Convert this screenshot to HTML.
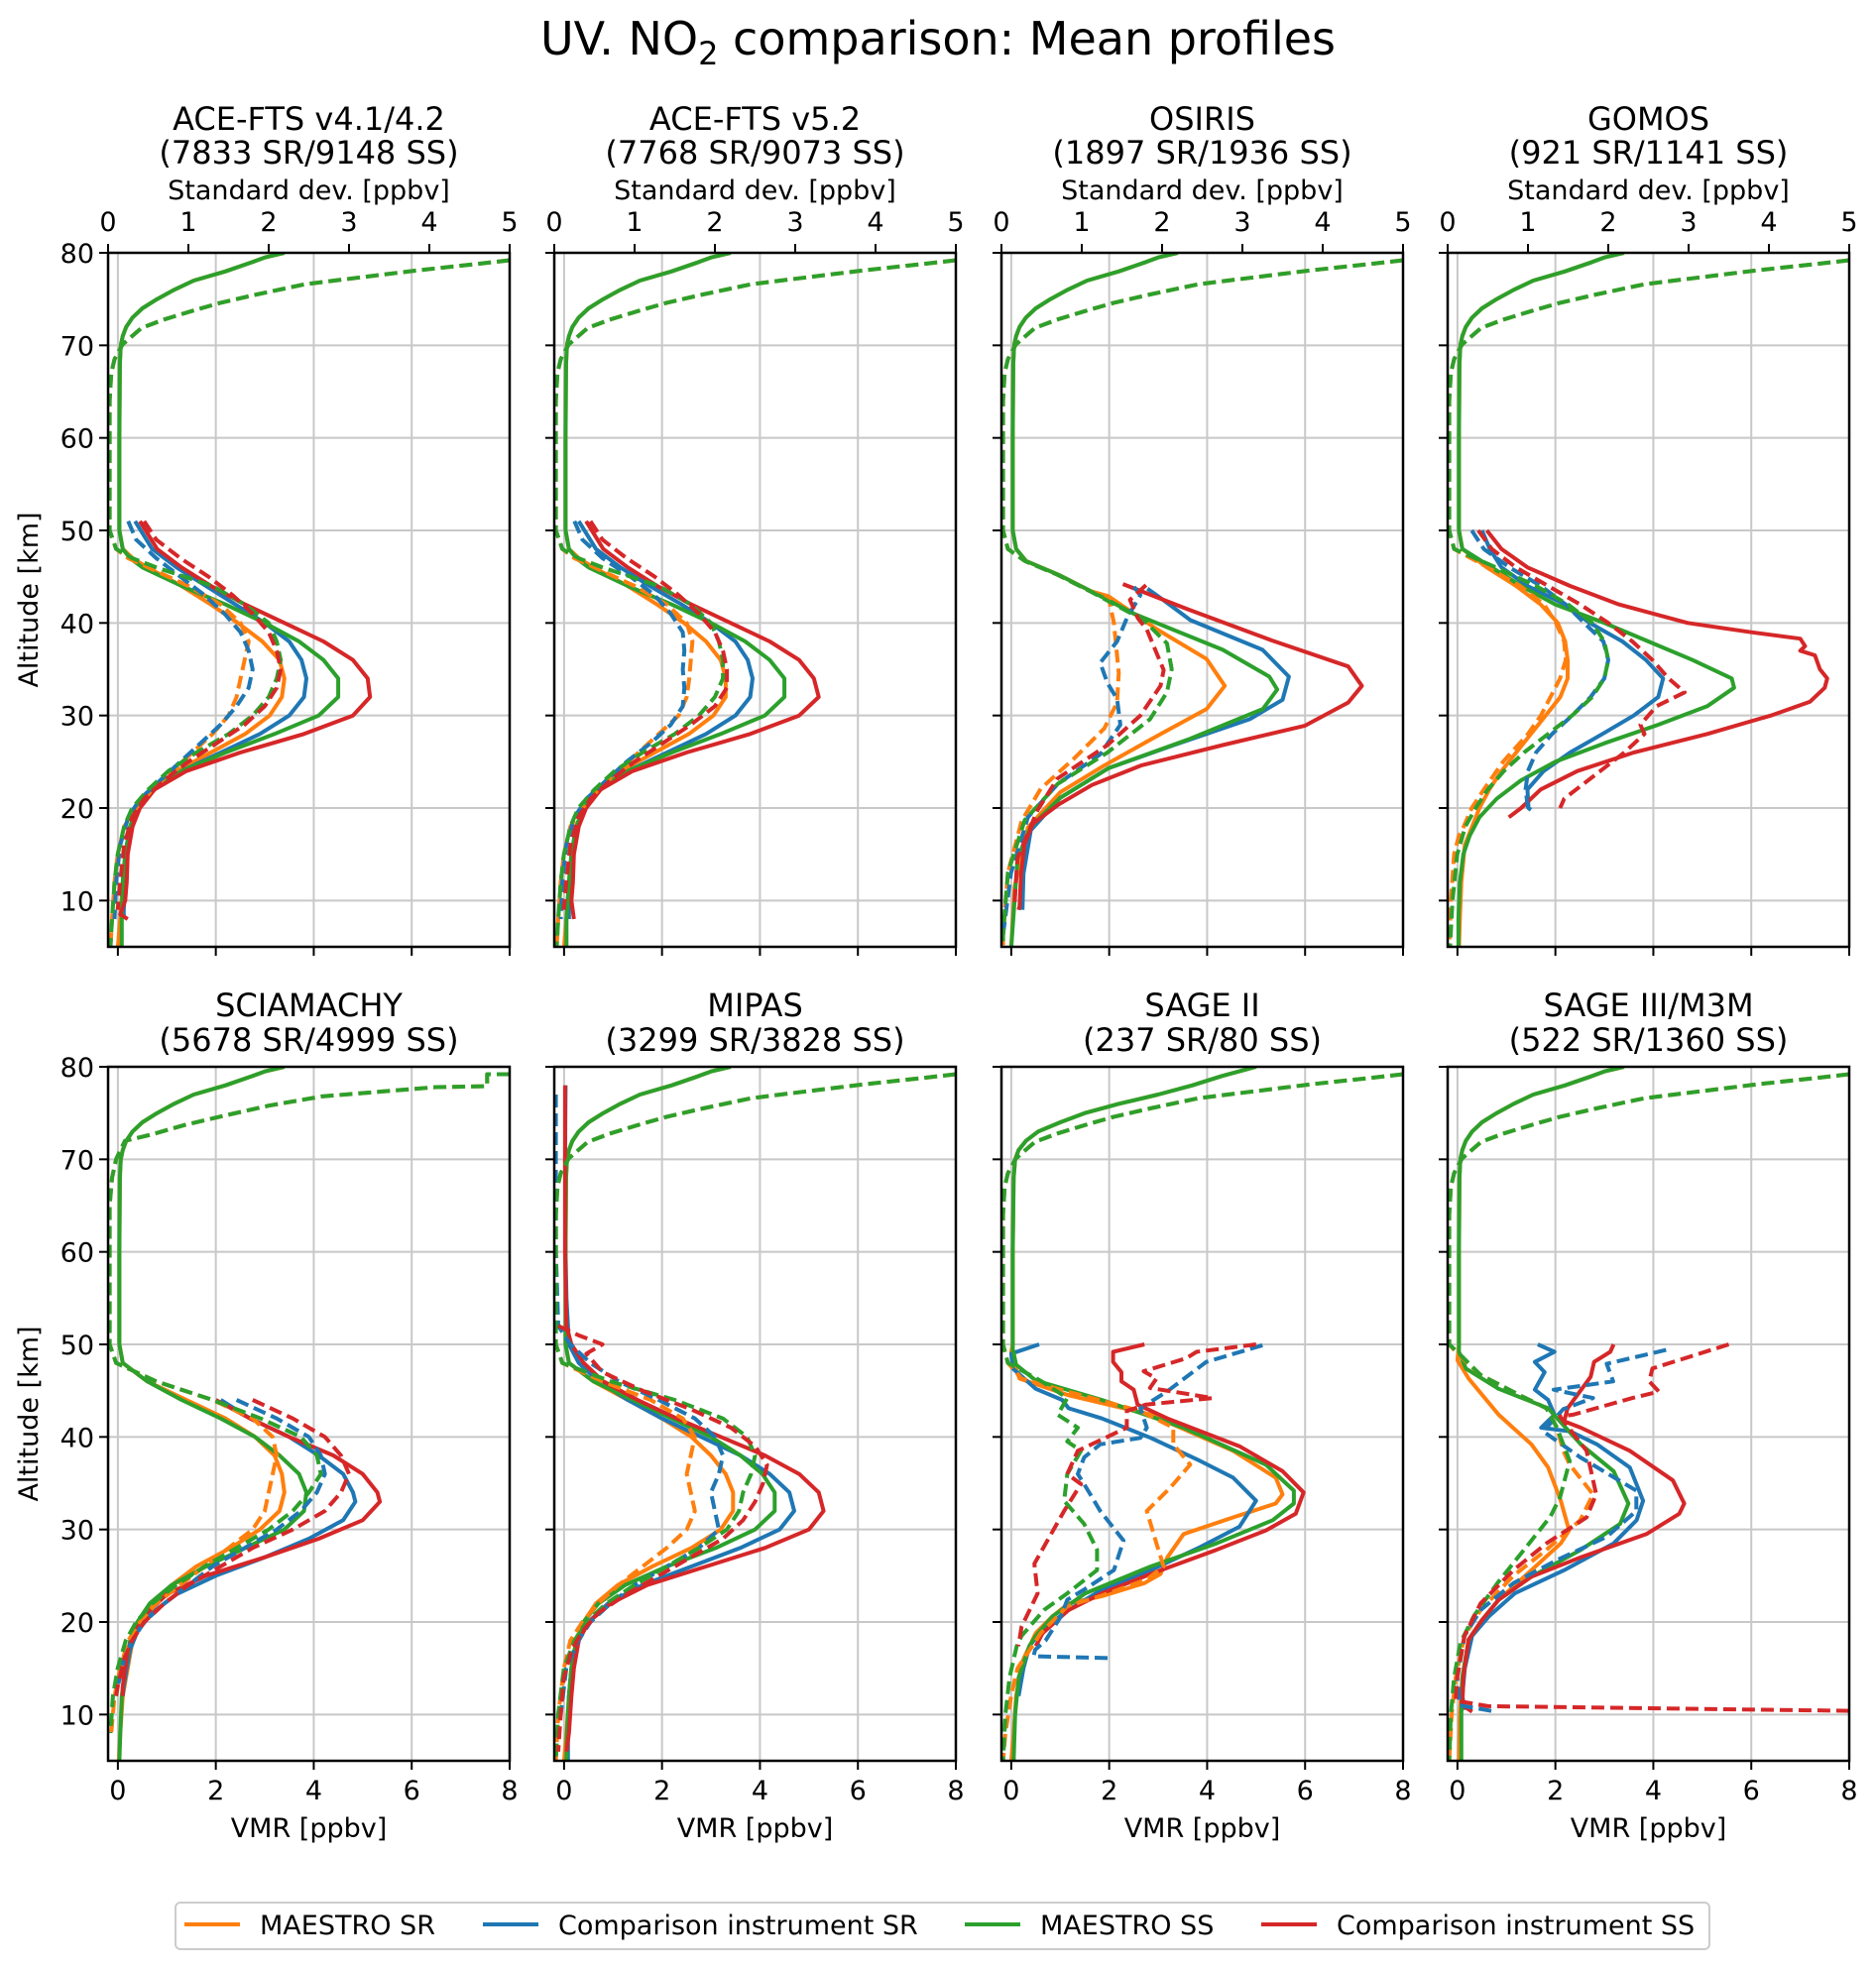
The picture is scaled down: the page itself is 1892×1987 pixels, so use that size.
<!DOCTYPE html>
<html><head><meta charset="utf-8">
<style>
html,body{margin:0;padding:0;background:#fff;}
svg{display:block;font-family:"DejaVu Sans","Liberation Sans",sans-serif;}
</style></head>
<body>
<svg id="fig" width="1892" height="1987" viewBox="0 0 1892 1987" xmlns="http://www.w3.org/2000/svg">
<rect width="1892" height="1987" fill="#fff"/>
<text x="946" y="55" font-size="46" text-anchor="middle">UV. NO<tspan font-size="32" dy="10">2</tspan><tspan dy="-10"> comparison: Mean profiles</tspan></text>
<g id="plots"></g>
<g>
<rect x="177" y="1919" width="1547" height="47" rx="5" fill="#fff" stroke="#cccccc" stroke-width="2"/>
<g><line x1="186" y1="1941" x2="242" y2="1941" stroke="#ff7f0e" stroke-width="4"/><text x="262" y="1951" font-size="27">MAESTRO SR</text></g>
<g><line x1="487" y1="1941" x2="543" y2="1941" stroke="#1f77b4" stroke-width="4"/><text x="563" y="1951" font-size="27">Comparison instrument SR</text></g>
<g><line x1="973" y1="1941" x2="1029" y2="1941" stroke="#2ca02c" stroke-width="4"/><text x="1049" y="1951" font-size="27">MAESTRO SS</text></g>
<g><line x1="1272" y1="1941" x2="1328" y2="1941" stroke="#d62728" stroke-width="4"/><text x="1348" y="1951" font-size="27">Comparison instrument SS</text></g>
</g>
</svg>
<script>
// ---- data: [altitude km, value] ----
const vmrTicks = [0, 2, 4, 6, 8];
const sdTicks = [0, 1, 2, 3, 4, 5];
const altTicks = [10, 20, 30, 40, 50, 60, 70, 80];
const titles1 = ["ACE-FTS v4.1/4.2","ACE-FTS v5.2","OSIRIS","GOMOS","SCIAMACHY","MIPAS","SAGE II","SAGE III/M3M"];
const titles2 = ["(7833 SR/9148 SS)","(7768 SR/9073 SS)","(1897 SR/1936 SS)","(921 SR/1141 SS)","(5678 SR/4999 SS)","(3299 SR/3828 SS)","(237 SR/80 SS)","(522 SR/1360 SS)"];

const upperM = [[80,3.4],[79.5,3.0],[79,2.75],[78,2.2],[77,1.55],[76,1.15],[75,0.8],[74,0.5],[73,0.3],[72,0.17],[71,0.1],[70,0.06],[68,0.04],[60,0.03],[50,0.03]];
const upperM_s2 = [[80,5.0],[79,4.3],[78,3.7],[77,3.0],[76,2.2],[75,1.5],[74,1.0],[73,0.55],[72,0.3],[71,0.15],[70,0.08],[68,0.05],[60,0.03],[50,0.03]];
const upperSD = [[79.2,5],[78.8,4.6],[78.1,3.85],[77.3,3.1],[76.6,2.45],[75.5,1.85],[74.6,1.4],[73.7,1.04],[72.8,0.7],[71.9,0.42],[70.1,0.18],[68.5,0.08],[67,0.04],[64,0.02],[50,0.02]];
const upperSD_b = [[79.2,5],[79.2,4.72],[77.9,4.72],[77.8,4.08],[76.8,2.66],[75.8,2.0],[74.8,1.49],[73.7,0.95],[72.7,0.55],[72,0.21],[70,0.1],[68,0.05],[65,0.02],[50,0.02]];

// Panel 1 (ACE-FTS v4.1/4.2)
const p1_mSR = [[48,0.1],[47,0.3],[46,0.6],[44,1.3],[42,1.9],[40,2.45],[38,2.95],[36,3.3],[34,3.4],[32,3.35],[30,3.1],[28,2.6],[26,1.9],[24,1.2],[22,0.7],[20,0.4],[18,0.25],[15,0.15],[12,0.1],[8,0.05],[5,0.0]];
const p1_cSR = [[51,0.35],[48,0.7],[46,1.2],[44,1.8],[42,2.4],[40,3.0],[38,3.5],[36,3.75],[34,3.85],[32,3.8],[30,3.5],[28,2.9],[26,2.1],[24,1.3],[22,0.75],[20,0.4],[18,0.25],[15,0.15],[12,0.15],[9,0.12],[8,0.12]];
const p1_mSS = [[48,0.1],[47,0.25],[46,0.5],[44,1.3],[42,2.2],[40,3.0],[38,3.7],[36,4.2],[34,4.5],[32,4.5],[30,4.1],[28,3.2],[26,2.2],[24,1.3],[22,0.7],[20,0.4],[18,0.25],[15,0.15],[12,0.1],[8,0.08],[5,0.08]];
const p1_cSS = [[51,0.45],[48,0.8],[46,1.3],[44,1.9],[42,2.6],[40,3.4],[38,4.2],[36,4.8],[34,5.1],[32,5.15],[30,4.8],[28,3.8],[26,2.5],[24,1.4],[22,0.75],[20,0.45],[18,0.3],[15,0.2],[12,0.18],[10,0.15],[8.5,0.05],[8,0.2]];
const p1_mSRsd = [[48,0.1],[47,0.25],[46,0.5],[44,1.0],[42,1.4],[40,1.65],[38,1.75],[36,1.7],[34,1.65],[32,1.6],[30,1.5],[28,1.3],[26,1.05],[24,0.8],[22,0.55],[20,0.35],[18,0.2],[15,0.12],[12,0.08],[8,0.05],[5,0.03]];
const p1_cSRsd = [[51,0.25],[49,0.35],[47,0.6],[45,0.9],[43,1.2],[41,1.45],[39,1.65],[37,1.75],[35,1.8],[33,1.75],[31,1.6],[29,1.4],[27,1.15],[25,0.9],[23,0.65],[21,0.4],[19,0.25],[16,0.15],[12,0.1],[8,0.08]];
const p1_mSSsd = [[48,0.1],[47,0.3],[46,0.6],[44,1.3],[42,1.7],[40,2.0],[38,2.1],[36,2.15],[34,2.1],[32,2.0],[30,1.8],[28,1.5],[26,1.1],[24,0.75],[22,0.5],[20,0.3],[18,0.2],[15,0.12],[12,0.08],[8,0.05],[5,0.03]];
const p1_cSSsd = [[51,0.45],[49,0.6],[47,0.9],[45,1.25],[43,1.55],[41,1.8],[39,2.0],[37,2.1],[35,2.15],[33,2.1],[31,1.95],[29,1.7],[27,1.35],[25,1.0],[23,0.7],[21,0.45],[19,0.3],[16,0.2],[12,0.15],[9,0.12]];

// Panel 2 (ACE-FTS v5.2)
const p2_mSR = [[48,0.1],[47,0.3],[46,0.6],[44,1.3],[42,1.9],[40,2.45],[38,2.9],[36,3.2],[34,3.3],[32,3.3],[30,3.05],[28,2.55],[26,1.85],[24,1.15],[22,0.7],[20,0.4],[18,0.25],[15,0.15],[12,0.1],[8,0.05],[5,0.0]];
const p2_cSR = [[51,0.3],[48,0.65],[46,1.15],[44,1.75],[42,2.4],[40,3.0],[38,3.5],[36,3.75],[34,3.85],[32,3.8],[30,3.5],[28,2.9],[26,2.1],[24,1.3],[22,0.75],[20,0.4],[18,0.25],[15,0.15],[12,0.12],[9,0.1],[8,0.1]];
const p2_mSS = [[48,0.1],[47,0.25],[46,0.5],[44,1.3],[42,2.2],[40,3.0],[38,3.7],[36,4.2],[34,4.5],[32,4.5],[30,4.1],[28,3.2],[26,2.2],[24,1.3],[22,0.7],[20,0.4],[18,0.25],[15,0.15],[12,0.1],[8,0.05],[5,0.05]];
const p2_cSS = [[51,0.45],[48,0.8],[46,1.3],[44,1.9],[42,2.6],[40,3.4],[38,4.2],[36,4.8],[34,5.1],[32,5.2],[30,4.8],[28,3.8],[26,2.5],[24,1.4],[22,0.75],[20,0.45],[18,0.3],[15,0.2],[12,0.18],[10,0.15],[8,0.2]];
const p2_mSRsd = [[48,0.1],[47,0.25],[46,0.5],[44,1.0],[42,1.4],[40,1.65],[38,1.72],[36,1.7],[34,1.68],[32,1.65],[30,1.55],[28,1.3],[26,1.05],[24,0.8],[22,0.55],[20,0.35],[18,0.2],[15,0.12],[12,0.08],[8,0.05],[5,0.03]];
const p2_cSRsd = [[51,0.25],[49,0.35],[47,0.6],[45,0.95],[43,1.25],[41,1.45],[39,1.6],[37,1.62],[35,1.6],[33,1.62],[31,1.6],[29,1.45],[27,1.2],[25,0.9],[23,0.65],[21,0.4],[19,0.25],[16,0.15],[12,0.1],[8,0.08]];
const p2_mSSsd = [[48,0.1],[47,0.3],[46,0.6],[44,1.3],[42,1.7],[40,1.95],[38,2.05],[36,2.1],[34,2.1],[32,2.0],[30,1.8],[28,1.5],[26,1.1],[24,0.75],[22,0.5],[20,0.3],[18,0.2],[15,0.12],[12,0.08],[8,0.05],[5,0.03]];
const p2_cSSsd = [[51,0.45],[49,0.6],[47,0.9],[45,1.25],[43,1.55],[41,1.8],[39,2.0],[37,2.1],[35,2.15],[33,2.15],[31,2.0],[29,1.7],[27,1.35],[25,1.0],[23,0.7],[21,0.45],[19,0.3],[16,0.2],[12,0.15],[9,0.12]];

// Panel 3 (OSIRIS)
const p3_mSR = [[48,0.1],[46.7,0.3],[45.2,0.97],[43.4,1.64],[42.9,1.98],[39.3,2.98],[36.1,3.99],[33.2,4.36],[30.7,3.99],[27.8,2.98],[24.6,1.9],[21.7,1.0],[17.9,0.34],[11.5,0.07],[5,0.0]];
const p3_cSR = [[43.7,2.78],[42.5,3.1],[40.3,3.66],[37.1,5.13],[34.2,5.67],[31.7,5.54],[29.6,4.87],[26.8,3.32],[24.3,1.98],[21.1,1.0],[17.6,0.4],[12.9,0.25],[9,0.23]];
const p3_mSS = [[48,0.1],[46.7,0.3],[45.2,0.97],[43.4,1.64],[41,2.5],[37.1,4.32],[34.2,5.27],[32.8,5.43],[30.7,5.14],[27.5,3.66],[24.3,1.98],[21.1,1.0],[18,0.4],[14.6,0.13],[5,0.0]];
const p3_cSS = [[44.2,2.28],[41.5,3.59],[38.1,5.33],[35.3,6.88],[33.2,7.16],[31.4,6.88],[28.9,6.0],[26.8,4.32],[24.6,2.65],[22.5,1.65],[20.4,0.97],[18.3,0.44],[16.1,0.27],[12.9,0.2],[9.4,0.17],[9,0.15]];
const p3_mSRsd = [[48,0.08],[46.7,0.29],[45.2,0.7],[43.4,1.11],[42.5,1.34],[40,1.4],[34.6,1.46],[31.4,1.44],[28.6,1.28],[25.4,0.91],[22.1,0.49],[18.6,0.25],[13,0.08],[6.3,0.02],[5,0.02]];
const p3_cSRsd = [[43.9,1.65],[43,1.73],[40.5,1.56],[38,1.44],[35.7,1.23],[33.5,1.32],[31.8,1.44],[29,1.48],[25.8,1.23],[22.6,0.7],[19,0.33],[13,0.12],[6.3,0.02]];
const p3_mSSsd = [[48,0.08],[46.7,0.29],[45.2,0.7],[43.4,1.11],[40.3,1.77],[37.8,2.06],[35,2.12],[32.5,2.06],[29.6,1.85],[26,1.32],[22.6,0.7],[18.7,0.29],[13,0.08],[6.3,0.02],[5,0.02]];
const p3_cSSsd = [[44.1,1.8],[42.5,1.6],[40.5,1.7],[39.3,1.81],[34.9,2.02],[33.2,1.98],[30,1.73],[26.8,1.32],[23.2,0.7],[19.8,0.45],[14.6,0.2],[9.3,0.16]];

// Panel 4 (GOMOS)
const p4_mSR = [[48,0.1],[46,0.6],[44,1.2],[42,1.7],[40,2.05],[38,2.2],[36,2.25],[34,2.25],[32,2.1],[30,1.8],[28,1.5],[26,1.2],[24,0.9],[22,0.65],[20,0.45],[18,0.3],[16,0.15],[12,0.08],[8,0.05],[5,0.03]];
const p4_cSR = [[50,0.5],[48,0.66],[46,0.9],[44,1.43],[42,2.2],[40,2.7],[38,3.37],[36,3.85],[34,4.2],[32,4.1],[30,3.6],[28,2.96],[26,2.3],[24,1.76],[22,1.43],[20,1.45],[19.8,1.5]];
const p4_mSS = [[48,0.1],[46,0.7],[44,1.3],[42,2.0],[40,3.0],[38,3.9],[36,4.8],[34,5.6],[33,5.65],[31,5.1],[29,4.1],[27,3.0],[25,2.0],[23,1.3],[21,0.8],[19,0.45],[17,0.25],[15,0.12],[12,0.05],[8,0.02],[5,0.02]];
const p4_cSS = [[50,0.6],[48,0.9],[46,1.43],[44,2.3],[42,3.3],[40,4.7],[39,6.0],[38.3,7.0],[37.5,7.1],[37,7.0],[36.5,7.3],[35,7.4],[34,7.55],[33,7.5],[31.5,7.2],[30,6.4],[28,5.1],[26,3.6],[24,2.45],[22,1.7],[20,1.3],[19,1.05]];
const p4_mSRsd = [[48,0.08],[46,0.5],[44,0.9],[42,1.2],[40,1.35],[38,1.45],[36,1.47],[34,1.4],[32,1.28],[30,1.16],[28,1.0],[25,0.69],[22,0.45],[20,0.3],[18,0.2],[17,0.14],[15,0.08],[10,0.04],[5,0.02]];
const p4_cSRsd = [[50,0.3],[48,0.45],[46,0.77],[44,1.16],[42,1.47],[40,1.7],[38,1.94],[36,2.0],[34,1.95],[32,1.78],[30,1.55],[28,1.3],[26,1.1],[24,1.0],[22,0.97],[20,1.0]];
const p4_mSSsd = [[48,0.08],[46,0.6],[44,1.1],[42,1.5],[40,1.8],[38,1.95],[36,2.0],[34,1.95],[32,1.8],[30,1.55],[28,1.25],[26,0.95],[24,0.7],[22,0.5],[20,0.35],[18,0.22],[15,0.12],[10,0.06],[5,0.03]];
const p4_cSSsd = [[50,0.38],[48,0.55],[46,0.85],[44,1.25],[42,1.65],[40,2.0],[38,2.3],[36,2.55],[34,2.75],[32.5,2.95],[31,2.6],[29,2.4],[28,2.45],[26,2.2],[24,1.9],[22,1.6],[21,1.45],[20,1.4]];

// Panel 5 (SCIAMACHY)
const p5_mSR = [[48,0.1],[46,0.6],[44,1.4],[42,2.2],[40,2.8],[38,3.2],[36,3.35],[34,3.4],[32,3.3],[30,2.9],[28,2.3],[26,1.6],[24,1.1],[22,0.7],[20,0.45],[18,0.3],[15,0.2],[12,0.1],[8,0.05],[5,0.02]];
const p5_cSR = [[44,2.1],[42,2.7],[40,3.5],[38,4.1],[36,4.6],[34,4.8],[33,4.85],[31,4.6],[29,3.9],[27,3.0],[25,2.0],[23,1.2],[21,0.7],[19,0.4],[17,0.25],[15,0.18],[13,0.12],[12,0.1]];
const p5_mSS = [[48,0.1],[46,0.6],[44,1.3],[42,2.1],[40,2.8],[38,3.3],[36,3.7],[34,3.85],[32,3.8],[30,3.4],[28,2.6],[26,1.8],[24,1.1],[22,0.65],[20,0.4],[18,0.25],[15,0.15],[12,0.08],[8,0.05],[5,0.03]];
const p5_cSS = [[44,2.0],[42,2.7],[40,3.5],[38,4.4],[36,5.0],[34,5.3],[33,5.35],[31,5.0],[29,4.1],[27,3.0],[25,1.8],[23,1.0],[21,0.6],[19,0.35],[17,0.2],[15,0.15],[13,0.1],[12,0.1]];
const p5_mSRsd = [[48,0.1],[46,0.6],[44,1.3],[42,1.8],[40,2.05],[38,2.1],[36,2.05],[34,2.0],[32,1.95],[30,1.8],[28,1.5],[26,1.2],[24,0.9],[22,0.6],[20,0.4],[18,0.25],[15,0.15],[12,0.08],[8,0.04]];
const p5_cSRsd = [[44,1.6],[42,2.1],[40,2.5],[38,2.65],[36,2.7],[34,2.6],[32,2.4],[30,2.1],[28,1.7],[26,1.3],[24,1.0],[22,0.7],[20,0.45],[18,0.3],[16,0.2],[13,0.12]];
const p5_mSSsd = [[48,0.1],[46,0.6],[44,1.3],[42,1.9],[40,2.4],[38,2.6],[36,2.65],[34,2.5],[32,2.3],[30,2.0],[28,1.6],[26,1.2],[24,0.85],[22,0.55],[20,0.35],[18,0.22],[15,0.12],[12,0.06],[8,0.03]];
const p5_cSSsd = [[44,1.8],[42,2.3],[40,2.7],[38,2.9],[36,3.0],[34,2.9],[32,2.7],[30,2.3],[28,1.8],[26,1.4],[24,1.0],[22,0.7],[20,0.45],[18,0.3],[16,0.2],[13,0.12],[12,0.1]];

// Panel 6 (MIPAS)
const p6_mSR = [[48,0.1],[46,0.6],[44,1.3],[42,2.0],[40,2.6],[38,3.0],[36,3.3],[34,3.45],[32,3.45],[30,3.2],[28,2.6],[26,1.8],[24,1.1],[22,0.65],[20,0.4],[18,0.25],[15,0.15],[12,0.1],[8,0.05],[5,0.0]];
const p6_cSR = [[78,0.03],[70,0.02],[60,0.03],[55,0.05],[52,0.08],[50,0.1],[48,0.3],[46,0.7],[44,1.3],[42,2.0],[40,2.8],[38,3.6],[36,4.2],[34,4.6],[32,4.7],[30,4.4],[28,3.6],[26,2.6],[24,1.6],[22,0.9],[20,0.5],[18,0.3],[15,0.15],[12,0.1],[8,0.08],[5,0.08]];
const p6_mSS = [[48,0.1],[46,0.6],[44,1.4],[42,2.2],[40,3.0],[38,3.6],[36,4.05],[34,4.3],[32,4.3],[30,3.9],[28,3.1],[26,2.1],[24,1.25],[22,0.7],[20,0.4],[18,0.25],[15,0.15],[12,0.1],[8,0.06],[5,0.05]];
const p6_cSS = [[78,0.02],[60,0.02],[52,0.05],[50,0.15],[48,0.4],[46,0.8],[44,1.5],[42,2.3],[40,3.2],[38,4.1],[36,4.8],[34,5.2],[32,5.3],[30,5.0],[28,4.1],[26,2.9],[24,1.7],[22,0.95],[20,0.5],[18,0.3],[15,0.2],[12,0.15],[8,0.1],[6,0.05]];
const p6_mSRsd = [[48,0.1],[46,0.6],[44,1.2],[42,1.6],[40,1.75],[38,1.7],[36,1.65],[34,1.7],[32,1.75],[30,1.65],[28,1.4],[26,1.1],[24,0.8],[22,0.55],[20,0.35],[18,0.2],[15,0.12],[10,0.05],[5,0.02]];
const p6_cSRsd = [[77,0.02],[60,0.02],[52,0.05],[50,0.2],[48,0.45],[46,0.8],[44,1.3],[42,1.75],[40,2.0],[38,2.1],[36,2.05],[34,1.95],[32,2.0],[30,2.05],[28,1.8],[26,1.4],[24,1.0],[22,0.7],[20,0.45],[18,0.3],[15,0.15],[10,0.08]];
const p6_mSSsd = [[48,0.1],[46,0.7],[44,1.5],[42,2.1],[40,2.4],[38,2.5],[36,2.45],[34,2.35],[32,2.3],[30,2.15],[28,1.8],[26,1.4],[24,1.0],[22,0.65],[20,0.4],[18,0.25],[15,0.12],[10,0.05],[5,0.02]];
const p6_cSSsd = [[52,0.05],[51,0.3],[50,0.6],[49,0.4],[47,0.6],[45,1.1],[43,1.7],[41,2.2],[39,2.5],[37,2.65],[35,2.6],[33,2.5],[31,2.35],[29,2.1],[27,1.7],[25,1.3],[23,0.9],[21,0.55],[19,0.35],[17,0.22],[14,0.12],[10,0.08],[6,0.05]];

// Panel 7 (SAGE II)
const p7_mSR = [[49.2,0.0],[48,0.05],[46.3,0.17],[44.5,1.17],[42.4,2.85],[38.5,4.53],[35.6,5.4],[33.8,5.54],[32.8,5.4],[31.3,4.53],[29.5,3.52],[27,3.19],[25.2,3.05],[24.2,2.72],[22.8,1.85],[22,1.17],[20.6,0.84],[18.8,0.5],[16,0.25],[12,0.1],[8,0.05],[5,0.0]];
const p7_cSR = [[50,0.57],[49,0.0],[47.4,0.03],[45.2,0.5],[44,1.04],[43.1,1.17],[42,1.85],[39.9,2.85],[37.4,3.86],[35.6,4.53],[33.1,5.0],[30.3,4.66],[28.1,3.86],[25.6,2.85],[23.5,1.85],[21.3,1.17],[19.2,0.64],[17.4,0.37],[15,0.25],[12,0.15]];
const p7_mSS = [[49.5,0.03],[47.8,0.1],[46.1,0.5],[44,1.85],[41,3.52],[37,5.2],[34.2,5.77],[32.8,5.77],[31,5.34],[28.5,4.19],[26,2.85],[23.1,1.51],[20.6,0.84],[18.5,0.5],[17.4,0.37],[14,0.15],[10,0.08],[5,0.05]];
const p7_cSS = [[50,2.72],[49.2,2.08],[48.1,2.08],[47,2.25],[46,2.25],[45.1,2.5],[43.5,2.58],[42,3.19],[39,4.66],[36.3,5.54],[34,5.97],[31.7,5.81],[29.9,5.2],[27.8,4.19],[25.2,2.85],[23.1,1.85],[21.3,1.17],[18.8,0.64],[17.4,0.5]];
const p7_mSRsd = [[48,0.08],[46.3,0.25],[44.9,0.82],[42.8,1.73],[41,2.14],[39.2,2.14],[37,2.35],[34.5,2.1],[32,1.81],[28.5,1.93],[26,2.02],[24.6,1.81],[22.8,1.23],[21.7,0.82],[18.8,0.49],[15,0.2],[12,0.12],[8,0.05],[5,0.02]];
const p7_cSRsd = [[49.9,3.25],[48.1,2.55],[44.9,2.06],[43.1,1.73],[41,1.81],[39.9,1.73],[39.2,1.23],[37.8,1.03],[36,0.95],[34.9,1.03],[32,1.23],[28.8,1.52],[25.6,1.4],[23.5,1.03],[22.4,0.82],[20.6,0.74],[18,0.55],[17,0.42],[16.3,0.4],[16.1,1.33]];
const p7_mSSsd = [[48,0.08],[46,0.5],[44.2,0.82],[42.4,0.7],[41,0.95],[39.5,0.82],[38.5,0.99],[36,0.82],[33.1,0.78],[30.6,1.03],[27.8,1.19],[25.6,1.19],[23.1,0.82],[21.3,0.53],[18.5,0.25],[17.4,0.19],[14,0.1],[10,0.05],[5,0.02]];
const p7_cSSsd = [[50,3.17],[49.2,2.43],[48.5,2.3],[47.1,1.77],[46.3,1.93],[45.3,1.85],[44.2,2.63],[43.5,1.8],[42.8,1.56],[41,1.56],[38.5,0.95],[36,0.82],[34.9,0.99],[32,0.78],[26.3,0.41],[23.1,0.45],[19.5,0.25],[17.4,0.21]];

// Panel 8 (SAGE III/M3M)
const p8_mSR = [[48.3,0.0],[46.3,0.23],[42.4,0.84],[39.2,1.51],[36.7,1.85],[33.1,2.11],[29.9,2.28],[28.5,2.11],[25.6,1.51],[22.4,0.84],[20.2,0.5],[18.1,0.23],[14,0.1],[10,0.05],[5,0.03]];
const p8_cSR = [[50,1.64],[49.2,1.98],[48.1,1.58],[47,1.78],[45.1,1.58],[44,1.85],[42.4,1.98],[41,1.71],[40.6,2.3],[39.2,2.85],[36.7,3.52],[33.1,3.79],[31,3.66],[28.5,3.19],[25.6,2.18],[23.1,1.17],[20.6,0.64],[18.5,0.3],[15,0.15],[12,0.1],[10.5,0.15]];
const p8_mSS = [[49.2,0.03],[47.4,0.17],[45.2,0.84],[43.1,1.85],[39.2,2.52],[36.3,3.19],[32.8,3.49],[30.6,3.32],[27.8,2.52],[24.9,1.51],[22.4,0.84],[20.2,0.5],[18.1,0.23],[14,0.1],[10,0.08],[5,0.08]];
const p8_cSS = [[50,3.19],[49.2,3.12],[48.1,2.79],[46.5,2.72],[43.1,2.25],[41.7,2.18],[41,2.52],[38.5,3.52],[35.3,4.4],[32.8,4.63],[31.7,4.53],[29.5,3.86],[27,2.52],[24.9,1.51],[22.4,0.84],[20.2,0.5],[18.1,0.23],[14,0.12],[11,0.1],[10.3,0.3]];
const p8_mSRsd = [[49.2,0.1],[46.7,0.41],[44.5,0.9],[43.1,1.23],[41,1.36],[38.5,1.44],[37,1.52],[33.8,1.81],[31,1.65],[27.8,1.23],[25,0.82],[21.3,0.41],[18.5,0.21],[14,0.1],[10,0.05],[5,0.02]];
const p8_cSRsd = [[49.4,2.72],[47.9,1.98],[46,2.06],[45.1,1.32],[44.2,1.81],[43,1.44],[40.6,1.19],[37.8,1.65],[34.2,2.35],[32,2.35],[29.2,1.98],[26.7,1.36],[24.2,0.82],[21.3,0.41],[18.5,0.21],[14,0.12],[11,0.15],[10.3,0.6]];
const p8_mSSsd = [[49.2,0.12],[46.7,0.41],[44.5,0.9],[43.1,1.23],[41,1.36],[37.4,1.52],[33.5,1.4],[31.4,1.28],[27.8,0.95],[24.2,0.62],[20.7,0.33],[17.8,0.16],[14,0.08],[10,0.04],[5,0.02]];
const p8_cSSsd = [[50,3.5],[47.4,2.55],[46,2.51],[44.9,2.63],[44.2,2.3],[42.4,1.56],[42.2,1.4],[38.5,1.73],[33.8,1.85],[31.3,1.73],[28.5,1.23],[25.6,0.82],[22,0.41],[18.5,0.21],[14,0.12],[11.5,0.1],[10.9,0.5],[10.4,5.0]];

const panelSeries = [
  {mU:upperM, sU:upperSD, mSR:p1_mSR, cSR:p1_cSR, mSS:p1_mSS, cSS:p1_cSS, mSRsd:p1_mSRsd, cSRsd:p1_cSRsd, mSSsd:p1_mSSsd, cSSsd:p1_cSSsd},
  {mU:upperM, sU:upperSD, mSR:p2_mSR, cSR:p2_cSR, mSS:p2_mSS, cSS:p2_cSS, mSRsd:p2_mSRsd, cSRsd:p2_cSRsd, mSSsd:p2_mSSsd, cSSsd:p2_cSSsd},
  {mU:upperM, sU:upperSD, mSR:p3_mSR, cSR:p3_cSR, mSS:p3_mSS, cSS:p3_cSS, mSRsd:p3_mSRsd, cSRsd:p3_cSRsd, mSSsd:p3_mSSsd, cSSsd:p3_cSSsd},
  {mU:upperM, sU:upperSD, mSR:p4_mSR, cSR:p4_cSR, mSS:p4_mSS, cSS:p4_cSS, mSRsd:p4_mSRsd, cSRsd:p4_cSRsd, mSSsd:p4_mSSsd, cSSsd:p4_cSSsd},
  {mU:upperM, sU:upperSD_b, mSR:p5_mSR, cSR:p5_cSR, mSS:p5_mSS, cSS:p5_cSS, mSRsd:p5_mSRsd, cSRsd:p5_cSRsd, mSSsd:p5_mSSsd, cSSsd:p5_cSSsd},
  {mU:upperM, sU:upperSD, mSR:p6_mSR, cSR:p6_cSR, mSS:p6_mSS, cSS:p6_cSS, mSRsd:p6_mSRsd, cSRsd:p6_cSRsd, mSSsd:p6_mSSsd, cSSsd:p6_cSSsd},
  {mU:upperM_s2, sU:upperSD, mSR:p7_mSR, cSR:p7_cSR, mSS:p7_mSS, cSS:p7_cSS, mSRsd:p7_mSRsd, cSRsd:p7_cSRsd, mSSsd:p7_mSSsd, cSSsd:p7_cSSsd},
  {mU:upperM, sU:upperSD, mSR:p8_mSR, cSR:p8_cSR, mSS:p8_mSS, cSS:p8_cSS, mSRsd:p8_mSRsd, cSRsd:p8_cSRsd, mSSsd:p8_mSSsd, cSSsd:p8_cSSsd}
];

// ---- layout ----
const NS = "http://www.w3.org/2000/svg";
const X0 = [109, 559, 1010, 1460], W = 405, Y0 = [255, 1076], H = 700;
const VMIN = -0.2, VMAX = 8, SMAX = 5, AMIN = 5, AMAX = 80;
function vx(c, v) { return X0[c] + (v - VMIN) / (VMAX - VMIN) * W; }
function sx(c, s) { return X0[c] + s / SMAX * W; }
function ya(r, a) { return Y0[r] + (AMAX - a) / (AMAX - AMIN) * H; }
function mk(tag, attrs, parent) {
  const e = document.createElementNS(NS, tag);
  for (const k in attrs) e.setAttribute(k, attrs[k]);
  parent.appendChild(e);
  return e;
}
const root = document.getElementById("plots");
const COL = {o:"#ff7f0e", b:"#1f77b4", g:"#2ca02c", r:"#d62728"};

panelSeries.forEach((S, i) => {
  const r = Math.floor(i / 4), c = i % 4;
  const g = mk("g", {}, root);
  
  
  const cx = X0[c] + W / 2;
  const t1 = mk("text", {x: cx, y: (r ? 1025 : 131), "font-size": 32, "text-anchor": "middle"}, g);
  t1.textContent = titles1[i];
  
  
  const t2 = mk("text", {x: cx, y: (r ? 1060 : 165), "font-size": 32, "text-anchor": "middle"}, g);
  t2.textContent = titles2[i];
  
  
  const cp = mk("clipPath", {id: "clip" + i}, g);
  mk("rect", {x: X0[c], y: Y0[r], width: W, height: H}, cp);
  const grid = mk("g", {stroke: "#c8c8c8", "stroke-width": 2}, g);
  
  
  vmrTicks.forEach(v => mk("line", {x1: vx(c, v), x2: vx(c, v), y1: Y0[r], y2: Y0[r] + H}, grid));
  altTicks.forEach(a => mk("line", {x1: X0[c], x2: X0[c] + W, y1: ya(r, a), y2: ya(r, a)}, grid));
  const plot = mk("g", {"clip-path": "url(#clip" + i + ")", fill: "none", "stroke-width": 4, "stroke-linejoin": "round"}, g);
  const solid = [["mSR", "o", true], ["cSR", "b", false], ["mSS", "g", true], ["cSS", "r", false]];
  solid.forEach(([k, col, isM]) => {
    const pts = isM ? S.mU.concat(S[k]) : S[k];
    const d = pts.map((p, j) => (j ? "L" : "M") + vx(c, p[1]).toFixed(1) + "," + ya(r, p[0]).toFixed(1)).join("");
    const p = mk("path", {d: d, stroke: COL[col]}, plot);
    
    
  });
  solid.forEach(([k, col, isM]) => {
    const pts = isM ? S.sU.concat(S[k + "sd"]) : S[k + "sd"];
    const d = pts.map((p, j) => (j ? "L" : "M") + sx(c, p[1]).toFixed(1) + "," + ya(r, p[0]).toFixed(1)).join("");
    const p = mk("path", {d: d, stroke: COL[col], "stroke-dasharray": "13,6"}, plot);
    
    
  });
  const fr = mk("rect", {x: X0[c], y: Y0[r], width: W, height: H, fill: "none", stroke: "#000", "stroke-width": 2.5}, g);
  
  
  const yax = mk("g", {stroke: "#000", "stroke-width": 2}, g);
  
  
  altTicks.forEach(a => {
    mk("line", {x1: X0[c] - 9, x2: X0[c], y1: ya(r, a), y2: ya(r, a)}, yax);
    if (c === 0) {
      const t = mk("text", {x: X0[c] - 14, y: ya(r, a) + 10, "font-size": 27, "text-anchor": "end", stroke: "none", fill: "#000"}, yax);
      t.textContent = a;
      
      
    }
  });
  if (c === 0) {
    const ym = Y0[r] + H / 2;
    const yl = mk("text", {x: 38, y: ym, "font-size": 27, "text-anchor": "middle", transform: "rotate(-90 38 " + ym + ")"}, g);
    yl.textContent = "Altitude [km]";
    
    
  }
  const xax = mk("g", {stroke: "#000", "stroke-width": 2}, g);
  
  
  vmrTicks.forEach(v => {
    mk("line", {x1: vx(c, v), x2: vx(c, v), y1: Y0[r] + H, y2: Y0[r] + H + 9}, xax);
    if (r === 1) {
      const t = mk("text", {x: vx(c, v), y: Y0[r] + H + 39, "font-size": 27, "text-anchor": "middle", stroke: "none", fill: "#000"}, xax);
      t.textContent = v;
      
      
    }
  });
  if (r === 1) {
    const xl = mk("text", {x: cx, y: 1853, "font-size": 27, "text-anchor": "middle"}, g);
    xl.textContent = "VMR [ppbv]";
    
    
  }
  if (r === 0) {
    const tax = mk("g", {stroke: "#000", "stroke-width": 2}, g);
    
    
    sdTicks.forEach(s => {
      mk("line", {x1: sx(c, s), x2: sx(c, s), y1: Y0[r] - 9, y2: Y0[r]}, tax);
      const t = mk("text", {x: sx(c, s), y: Y0[r] - 22, "font-size": 27, "text-anchor": "middle", stroke: "none", fill: "#000"}, tax);
      t.textContent = s;
      
      
    });
    const st = mk("text", {x: cx, y: 201, "font-size": 27, "text-anchor": "middle"}, g);
    st.textContent = "Standard dev. [ppbv]";
    
    
  }
});
</script>
</body></html>
